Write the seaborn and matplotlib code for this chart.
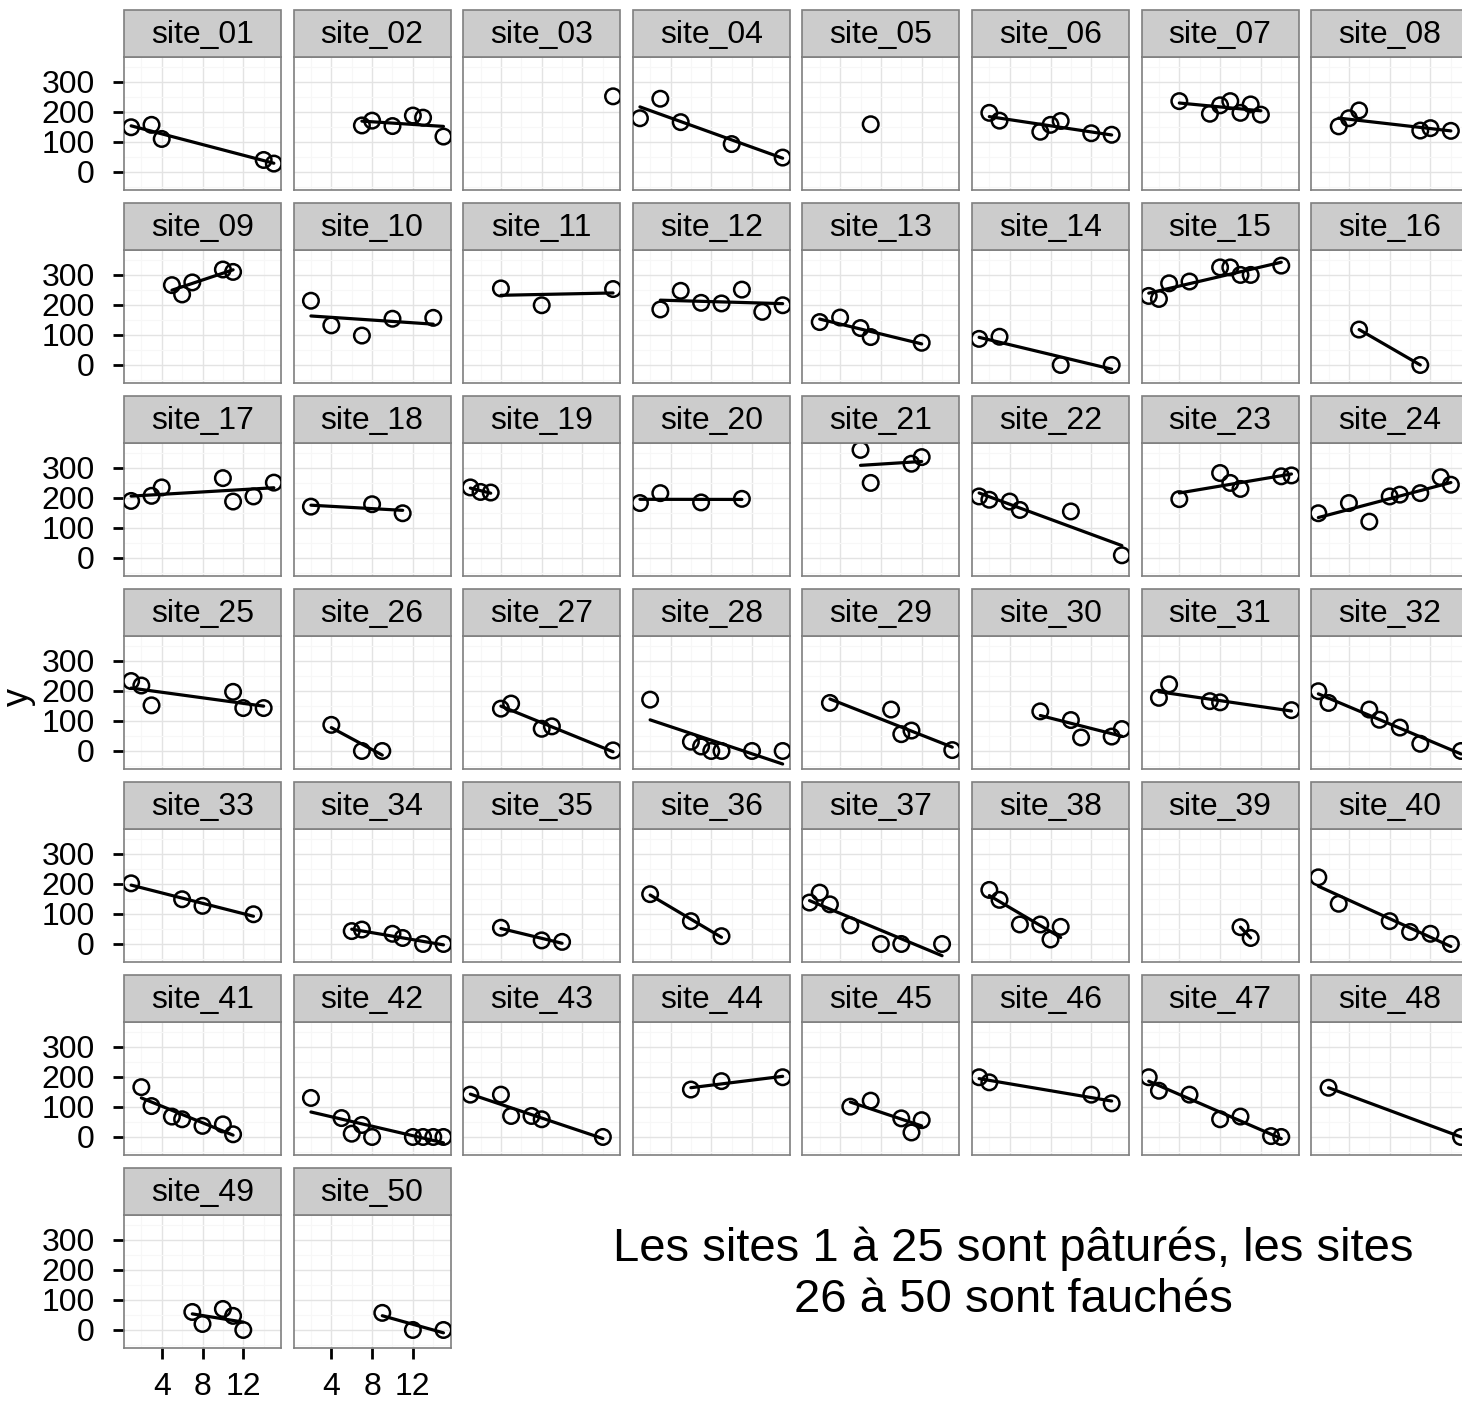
import numpy as np
import pandas as pd
import matplotlib
matplotlib.use("Agg")
import matplotlib.pyplot as plt
from matplotlib.patches import Rectangle
import seaborn as sns

# ---------------- data ----------------
site_names = [f"site_{i:02d}" for i in range(1, 51)]

# sites 1-25 (grazed)
x_grazed = [
    [1, 3, 4, 14, 15], [7, 8, 10, 12, 13, 15], [15], [1, 3, 5, 10, 15], [7],
    [2, 3, 7, 8, 9, 12, 14], [4, 7, 8, 9, 10, 11, 12], [3, 4, 5, 11, 12, 14],
    [5, 6, 7, 10, 11], [2, 4, 7, 10, 14], [4, 8, 15], [3, 5, 7, 9, 11, 13, 15],
    [2, 4, 6, 7, 12], [1, 3, 9, 14], [1, 2, 3, 5, 8, 9, 10, 11, 14], [5, 11],
    [1, 3, 4, 10, 11, 13, 15], [2, 8, 11], [1, 2, 3], [1, 3, 7, 11],
    [6, 7, 11, 12], [1, 2, 4, 5, 10, 15], [4, 8, 9, 10, 14, 15],
    [1, 4, 6, 8, 9, 11, 13, 14], [1, 2, 3, 11, 12, 14],
]
y_grazed = [
    [149, 157, 110, 40, 28], [155, 171, 153, 188, 181, 118], [252],
    [179, 244, 166, 93, 48], [159],
    [197, 171, 134, 157, 170, 129, 124], [236, 194, 222, 236, 197, 225, 191],
    [152, 179, 205, 138, 146, 137],
    [266, 235, 275, 318, 310], [214, 132, 98, 154, 157], [255, 199, 253],
    [185, 247, 207, 205, 251, 177, 199],
    [143, 158, 123, 93, 74], [87, 94, 0, 0],
    [230, 220, 272, 278, 325, 325, 300, 300, 331], [118, 0],
    [190, 207, 235, 266, 188, 205, 251], [171, 179, 149], [235, 220, 218],
    [183, 216, 185, 197],
    [360, 250, 314, 336], [205, 194, 188, 160, 155, 9],
    [196, 283, 250, 230, 272, 275],
    [149, 183, 121, 205, 211, 216, 269, 244], [233, 218, 152, 197, 143, 143],
]

# sites 26-50 (mown)
x_mown = [
    [4, 7, 9], [4, 5, 8, 9, 15], [2, 6, 7, 8, 9, 12, 15], [3, 9, 10, 11, 15],
    [7, 10, 11, 14, 15], [2, 3, 7, 8, 15], [1, 2, 6, 7, 9, 11, 15],
    [1, 6, 8, 13], [6, 7, 10, 11, 13, 15], [4, 8, 10], [2, 6, 9],
    [1, 2, 3, 5, 8, 10, 14], [2, 3, 5, 7, 8, 9], [10, 11],
    [1, 3, 8, 10, 12, 14], [2, 3, 5, 6, 8, 10, 11],
    [2, 5, 6, 7, 8, 12, 13, 14, 15], [1, 4, 5, 7, 8, 14], [6, 9, 15],
    [5, 7, 10, 11, 12], [1, 2, 12, 14], [1, 2, 5, 8, 10, 13, 14], [2, 15],
    [7, 8, 10, 11, 12], [9, 12, 15],
]
y_mown = [
    [87, 0, 0], [141, 158, 74, 82, 2], [171, 31, 15, 0, 0, 0, 0],
    [160, 138, 56, 68, 3], [132, 103, 45, 48, 73], [177, 222, 166, 162, 136],
    [199, 160, 138, 104, 78, 24, 0],
    [202, 149, 127, 99], [43, 48, 34, 20, 0, 0], [54, 12, 7], [166, 76, 26],
    [138, 171, 132, 62, 0, 0, 0], [180, 147, 65, 65, 15, 57], [56, 20],
    [222, 134, 76, 40, 34, 0], [166, 103, 68, 59, 37, 42, 9],
    [130, 63, 11, 40, 0, 0, 0, 0, 0], [141, 141, 70, 70, 59, 0], [158, 186, 199],
    [101, 121, 62, 15, 56], [199, 182, 141, 112], [199, 154, 141, 59, 68, 3, 0],
    [164, 0],
    [60, 20, 70, 47, 0], [57, 0, 0],
]

x_ticks = [4, 8, 12]
y_ticks = [0, 100, 200, 300]
y_label = "y"
note_text = "Les sites 1 à 25 sont pâturés, les sites\n26 à 50 sont fauchés"

rows = []
for name, xs, ys in zip(site_names, x_grazed + x_mown, y_grazed + y_mown):
    for xv, yv in zip(xs, ys):
        rows.append((name, xv, yv))
df = pd.DataFrame(rows, columns=["site", "x", "y"])

# ---------------- style ----------------
sns.set_style("white")
plt.rcParams["font.family"] = ["Liberation Sans", "DejaVu Sans"]
plt.rcParams["text.color"] = "black"

W, H = 1462, 1401
g = sns.FacetGrid(df, col="site", col_order=site_names, col_wrap=8,
                  sharex=True, sharey=True, height=1.5, aspect=1, despine=False)


def draw(data, **kws):
    ax = plt.gca()
    if data["x"].nunique() >= 2:
        sns.regplot(data=data, x="x", y="y", scatter=False, ci=None,
                    truncate=True, ax=ax,
                    line_kws=dict(color="black", linewidth=2.3, zorder=4))
    sns.scatterplot(data=data, x="x", y="y", ax=ax, marker="o", s=125,
                    facecolor="none", edgecolor="black", linewidth=1.8,
                    zorder=3)


g.map_dataframe(draw)

fig = g.figure
fig.set_size_inches(W / 100, H / 100)
fig.set_dpi(100)

col_left0 = 124.0
col_pitch = 169.6
panel_w = 157.0
row_top0 = 57.0
row_pitch = 193.0
panel_h = 133.0
strip_h = 47.0

grey50 = "#7F7F7F"
for i, ax in enumerate(g.axes.flat):
    r, c = divmod(i, 8)
    left = col_left0 + c * col_pitch
    top = row_top0 + r * row_pitch
    ax.set_position([left / W, 1 - (top + panel_h) / H, panel_w / W, panel_h / H])

    ax.set_title("")
    ax.set_xlabel("")
    ax.set_ylabel("")
    ax.set_facecolor("white")
    for sp in ax.spines.values():
        sp.set_visible(True)
        sp.set_color(grey50)
        sp.set_linewidth(1.2)

    ax.set_xticks(x_ticks)
    ax.set_xticks([2, 6, 10, 14], minor=True)
    ax.set_yticks(y_ticks)
    ax.set_yticks([-50, 50, 150, 250, 350], minor=True)
    ax.set_xlim(0.3, 15.7)
    ax.set_ylim(-60, 383)
    ax.grid(which="major", color="#E3E3E3", linewidth=1.0)
    ax.grid(which="minor", color="#F7F7F7", linewidth=0.8)
    ax.set_axisbelow(True)
    ax.tick_params(which="minor", length=0)

    is_left = (c == 0)
    is_bottom = (i >= 48)
    ax.tick_params(axis="y", which="major", left=is_left, labelleft=is_left,
                   length=8, width=2, color="black", labelsize=23, pad=13,
                   labelcolor="black")
    ax.tick_params(axis="x", which="major", bottom=is_bottom,
                   labelbottom=is_bottom, length=8, width=2, color="black",
                   labelsize=23, pad=9, labelcolor="black")
    if is_left:
        for lab in ax.get_yticklabels():
            lab.set_visible(True)
    if is_bottom:
        for lab in ax.get_xticklabels():
            lab.set_visible(True)

    frac = strip_h / panel_h
    ax.add_patch(Rectangle((0, 1), 1, frac, transform=ax.transAxes,
                           facecolor="#CCCCCC", edgecolor=grey50,
                           linewidth=1.2, clip_on=False, zorder=5))
    ax.text(0.5, 1 + frac / 2 - 0.012, site_names[i], transform=ax.transAxes,
            ha="center", va="center", fontsize=23, color="black",
            clip_on=False, zorder=6)

fig.text(18 / W, 1 - 697 / H, y_label, rotation=90, ha="center",
         va="center", fontsize=26, color="black")
fig.text(1013 / W, 1 - 1274 / H, note_text, ha="center", va="center",
         fontsize=34, color="black")

fig.savefig("out.png", dpi=100)
